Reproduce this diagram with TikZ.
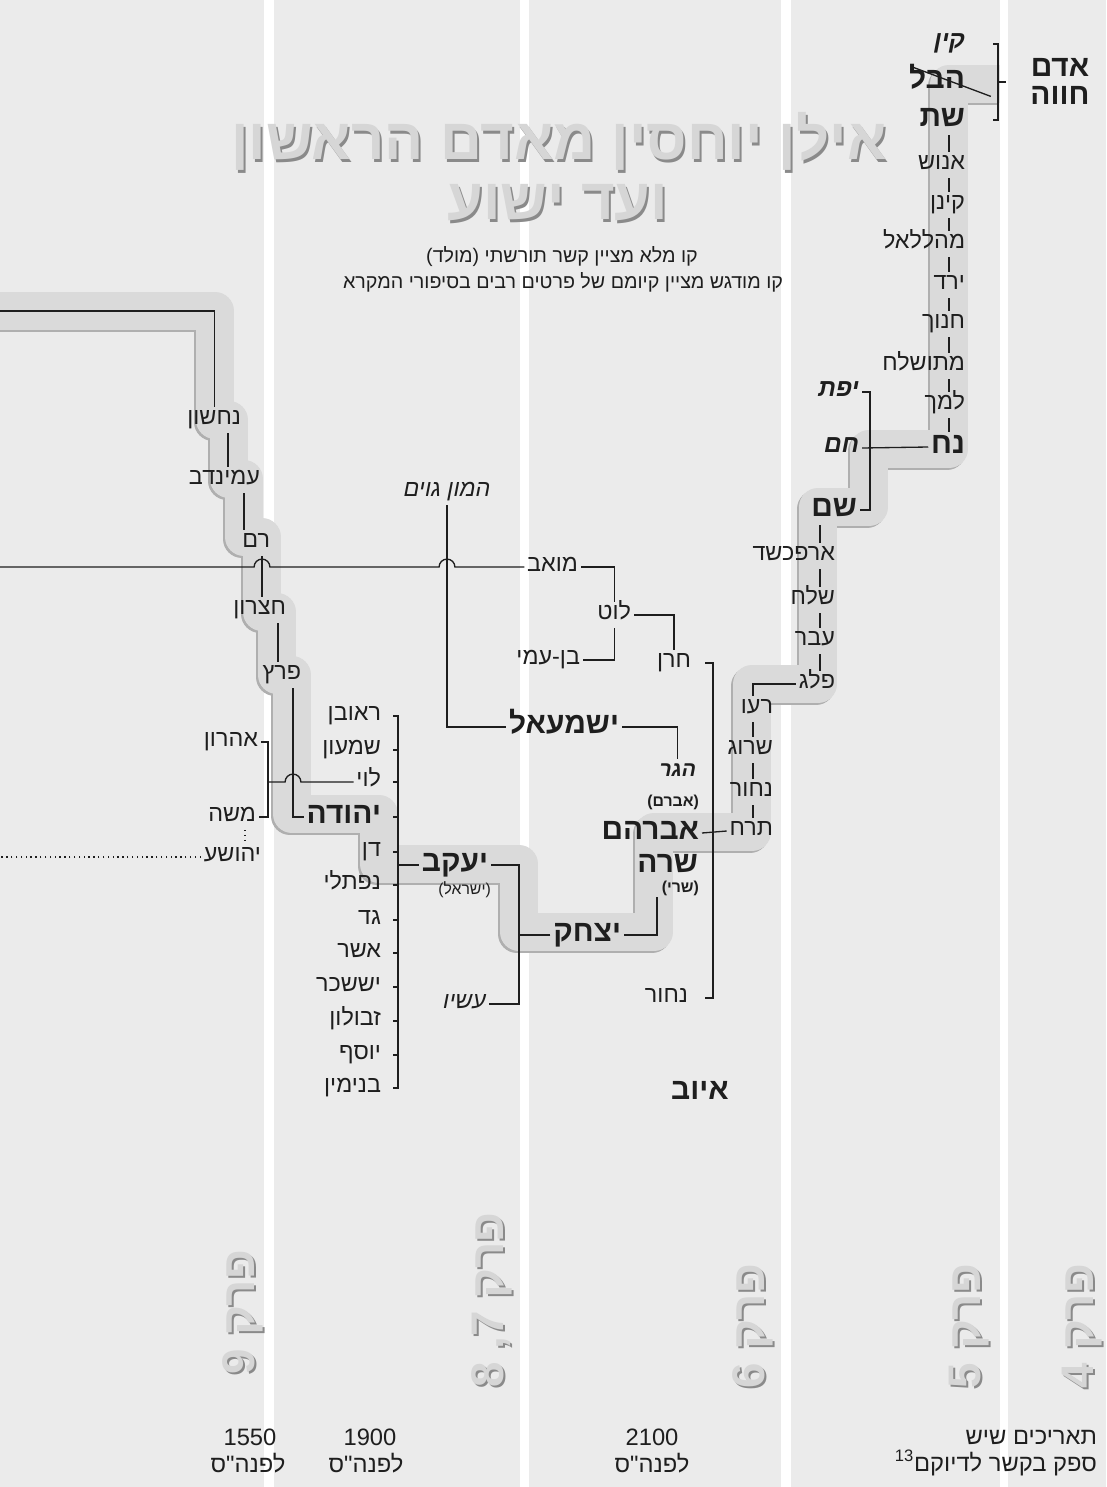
\documentclass[tikz,border=0pt]{standalone}
\usepackage{fontspec}
\setmainfont{Liberation Sans}
\newfontfamily\hebfont[Script=Hebrew]{Liberation Sans}
\TeXXeTstate=1
\usetikzlibrary{positioning}

\definecolor{panelgray}{HTML}{EBEBEB}
\definecolor{bandfill}{HTML}{DADADA}
\definecolor{bandedge}{HTML}{AFAFAF}
\definecolor{embface}{HTML}{D6D6D6}
\definecolor{embshade}{HTML}{8A8A8A}
\definecolor{ink}{HTML}{1E1E1E}

\newcommand{\heb}[1]{{\hebfont\beginR #1\endR}}

\begin{document}
\begin{tikzpicture}[x=0.02cm, y=-0.02cm,
    nm/.style={font=\fontsize{13.3}{15}\selectfont, text=ink, inner sep=1.5pt, text height=8.5pt, text depth=3pt, anchor=east},
    big/.style={nm, font=\fontsize{17}{19}\selectfont\bfseries, text height=10.5pt, text depth=3.5pt},
    slant/.style={nm, font=\fontsize{14}{16}\selectfont\bfseries\itshape},
    itname/.style={nm, font=\fontsize{13.3}{15}\selectfont\itshape},
    note/.style={font=\fontsize{9}{10}\selectfont\bfseries, text=ink, inner sep=1pt, anchor=east},
    date/.style={font=\fontsize{13.5}{15}\selectfont, text=ink, inner sep=1pt},
    link/.style={draw=ink, line width=0.75pt},
    band/.style={line width=0.76cm, line join=round},
    embtop/.style={font=\fontsize{33}{35}\selectfont\bfseries, text=embface, inner sep=0pt},
    embbot/.style={font=\fontsize{33}{35}\selectfont\bfseries, text=embshade, inner sep=0pt},
    chap/.style={font=\fontsize{26}{28}\selectfont\bfseries, rotate=90, inner sep=0pt}]

    \useasboundingbox (0,0) rectangle (1106,1487);

    % Background panels
    \fill[white] (0,0) rectangle (1106,1487);
    \foreach \xa/\xb in {0/264, 274/520, 529/781, 791/1000, 1008/1106}
        \fill[panelgray] (\xa,0) rectangle (\xb,1487);

    % Main line of descent
    \foreach \dx/\dy/\col in {-2/2/bandedge, 0/0/bandfill}
        \draw[band, \col, shift={(\dx,\dy)}] (0,311) -- (215,311) -- (215,420) -- (229,420)
            -- (229,479) -- (244,479) -- (244,537) -- (262,537) -- (262,612) -- (277,612)
            -- (277,675) -- (292,675) -- (292,814) -- (379,814) -- (379,864) -- (519,864)
            -- (519,932) -- (654,932) -- (654,832) -- (752,832) -- (752,684) -- (818,684)
            -- (818,507) -- (869,507) -- (869,449) -- (949,449) -- (949,84) -- (1000,84);

    % Title
    \node[embbot] (titleshade) at (561,144) {\heb{אילן יוחסין מאדם הראשון}};
    \node[embtop] (title) at (559,141) {\heb{אילן יוחסין מאדם הראשון}};
    \node[embbot] (subtitleshade) at (560,206) {\heb{ועד ישוע}};
    \node[embtop] (subtitle) at (558,203) {\heb{ועד ישוע}};
    \node[date, font=\fontsize{11.2}{13}\selectfont] (legendA) at (562,257) {\heb{קו מלא מציין קשר תורשתי (מולד)}};
    \node[date, font=\fontsize{11.2}{13}\selectfont] (legendB) at (563,282) {\heb{קו מודגש מציין קיומם של פרטים רבים בסיפורי המקרא}};

    % Adam to Noah
    \node[big, anchor=center] (adam) at (1060,70) {\heb{אדם}};
    \node[big, anchor=center] (havva) at (1060,98) {\heb{חווה}};
    \node[slant] (qayin) at (968,44) {\heb{קין}};
    \node[big] (hevel) at (968,82) {\heb{הבל}};
    \node[big] (shet) at (968,120) {\heb{שת}};
    \draw[link] ([shift={(3pt,0pt)}]hevel.north west) -- ([shift={(13pt,0.5pt)}]hevel.south east);
    \coordinate (adspine) at (998,0);
    \coordinate (adtick) at (993,0);
    \draw[link] (qayin.east -| adtick) -- (qayin.east -| adspine) -- (shet.east -| adspine) -- (shet.east -| adtick);
    \draw[link] (hevel.east -| adspine) -- ++(8,0);

    \foreach \who/\txt/\yy in {enosh/אנוש/165, qenan/קינן/205, mahalalel/מהללאל/244, yered/ירד/285,
            hanokh/חנוך/324, metushelah/מתושלח/366, lemekh/למך/405}
        \node[nm] (\who) at (968,\yy) {\heb{\txt}};
    \node[big] (noah) at (968,447) {\heb{נח}};
    \coordinate (sethcol) at (949,0);
    \foreach \a/\b in {shet/enosh, enosh/qenan, qenan/mahalalel, mahalalel/yered, yered/hanokh,
            hanokh/metushelah, metushelah/lemekh, lemekh/noah}
        \draw[link] (\a.south -| sethcol) -- (\b.north -| sethcol);

    % Sons of Noah
    \node[slant] (yefet) at (862,392) {\heb{יפת}};
    \node[slant] (ham) at (862,448) {\heb{חם}};
    \node[big] (shem) at (860,510) {\heb{שם}};
    \coordinate (noahspine) at (870,0);
    \draw[link] (yefet.east) -| (shem.east -| noahspine) -- (shem.east);
    \draw[link] (ham.east) -- (noah.west);

    % Shem to Terah
    \foreach \who/\txt/\yy in {arpakhshad/ארפכשד/556, shelah/שלח/600, ever/עבר/641, peleg/פלג/684}
        \node[nm] (\who) at (838,\yy) {\heb{\txt}};
    \coordinate (shemcol) at (820,0);
    \foreach \a/\b in {shem/arpakhshad, arpakhshad/shelah, shelah/ever, ever/peleg}
        \draw[link] (\a.south -| shemcol) -- (\b.north -| shemcol);

    \foreach \who/\txt/\yy in {reu/רעו/709, serug/שרוג/750, nahor/נחור/792, terah/תרח/831}
        \node[nm] (\who) at (776,\yy) {\heb{\txt}};
    \coordinate (reucol) at (753,0);
    \draw[link] (peleg.west) -| (reu.north -| reucol);
    \foreach \a/\b in {reu/serug, serug/nahor, nahor/terah}
        \draw[link] (\a.south -| reucol) -- (\b.north -| reucol);

    % Sons of Terah
    \node[big] (avraham) at (702,833) {\heb{אברהם}};
    \node[nm] (haran) at (694,663) {\heb{חרן}};
    \node[nm] (nahortwo) at (691,998) {\heb{נחור}};
    \coordinate (terspine) at (713,0);
    \coordinate (tertick) at (705,0);
    \draw[link] (haran.east -| tertick) -- (haran.east -| terspine) -- (nahortwo.east -| terspine) -- (nahortwo.east -| tertick);
    \draw[link] (avraham.east) -- (terah.west);

    % Lot
    \node[nm] (lot) at (634,615) {\heb{לוט}};
    \node[nm] (moav) at (581,567) {\heb{מואב}};
    \node[nm] (benami) at (583,660) {\heb{בן-עמי}};
    \draw[link] (lot.east) -| (haran.north);
    \draw[link] (moav.east) -| (lot.north);
    \draw[link] (lot.south) |- (benami.east);

    % Ishmael and Isaac
    \node[itname, anchor=center] (hamon) at (447,492) {\heb{המון גוים}};
    \node[big] (ishmael) at (622,727) {\heb{ישמעאל}};
    \node[slant, font=\fontsize{12}{14}\selectfont\bfseries\itshape] (hagar) at (699,772) {\heb{הגר}};
    \node[note] (avram) at (701,802) {\heb{(אברם)}};
    \node[big] (sarah) at (701,866) {\heb{שרה}};
    \node[note] (sarai) at (701,888) {\heb{(שרי)}};
    \coordinate (hopA) at (447,567);
    \coordinate (hopB) at (262,567);
    \coordinate (leftB) at (0,567);
    \draw[link] (hamon.south) |- (ishmael.west);
    \draw[link] (ishmael.east) -| (hagar.north);
    \draw[link] (moav.west) -- ([xshift=4.5pt]hopA) arc[start angle=0, end angle=180, radius=4.5pt]
        -- ([xshift=4.5pt]hopB) arc[start angle=0, end angle=180, radius=4.5pt] -- (leftB);

    \node[big] (yitzhak) at (624,935) {\heb{יצחק}};
    \coordinate (sarahfoot) at (657,897);
    \draw[link] (sarahfoot) |- (yitzhak.east);

    % Jacob and Esau
    \node[big] (yaakov) at (491,865) {\heb{יעקב}};
    \node[note, font=\fontsize{9}{10}\selectfont] (israel) at (493,890) {\heb{(ישראל)}};
    \node[itname] (esav) at (489,1004) {\heb{עשיו}};
    \coordinate (isspine) at (519,935);
    \draw[link] (yitzhak.west) -- (isspine);
    \draw[link] (yaakov.east) -| (isspine) |- (esav.east);

    % Twelve tribes
    \foreach \who/\txt/\yy in {reuven/ראובן/716, shimon/שמעון/750, levi/לוי/782, dan/דן/852,
            naftali/נפתלי/885, gad/גד/920, asher/אשר/953, yissakhar/יששכר/987,
            zevulun/זבולון/1021, yosef/יוסף/1055, binyamin/בנימין/1088}
        \node[nm] (\who) at (384,\yy) {\heb{\txt}};
    \node[big] (yehuda) at (384,817) {\heb{יהודה}};
    \coordinate (jspine) at (398,0);
    \coordinate (jtick) at (393,0);
    \draw[link] (reuven.east -| jtick) -- (reuven.east -| jspine) -- (binyamin.east -| jspine) -- (binyamin.east -| jtick);
    \foreach \who in {shimon, levi, yehuda, dan, naftali, gad, asher, yissakhar, zevulun, yosef}
        \draw[link] (\who.east -| jtick) -- (\who.east -| jspine);
    \draw[link] (yaakov.west) -- (yaakov.west -| jspine);

    % Levi
    \node[nm] (aharon) at (261,742) {\heb{אהרון}};
    \node[nm] (moshe) at (259,817) {\heb{משה}};
    \node[nm] (yehoshua) at (264,857) {\heb{יהושע}};
    \coordinate (levispine) at (268,782);
    \coordinate (hopC) at (293,782);
    \coordinate (joshcol) at (245,0);
    \coordinate (leftC) at (0,857);
    \draw[link] (levi.west) -- ([xshift=4.5pt]hopC) arc[start angle=0, end angle=180, radius=4.5pt] -- (levispine);
    \draw[link] (aharon.east) -| (levispine) |- (moshe.east);
    \draw[link, dotted] (moshe.south -| joshcol) -- (yehoshua.north -| joshcol);
    \draw[link, dotted] (yehoshua.west) -- (leftC);

    % Judah to Nahshon
    \node[nm] (peretz) at (304,675) {\heb{פרץ}};
    \node[nm] (hetzron) at (289,610) {\heb{חצרון}};
    \node[nm] (ram) at (273,543) {\heb{רם}};
    \node[nm] (amminadav) at (263,480) {\heb{עמינדב}};
    \node[nm] (nahshon) at (244,420) {\heb{נחשון}};
    \coordinate (perezcol) at (293,0);
    \coordinate (hetzcol) at (278,0);
    \coordinate (ramcol) at (262,0);
    \coordinate (amcol) at (244,0);
    \coordinate (nahcol) at (228,0);
    \coordinate (leftA) at (0,311);
    \draw[link] (yehuda.west) -| (peretz.south -| perezcol);
    \foreach \a/\b/\c in {nahshon/amminadav/nahcol, amminadav/ram/amcol, ram/hetzron/ramcol, hetzron/peretz/hetzcol}
        \draw[link] (\a.south -| \c) -- (\b.north -| \c);
    \draw[link] (nahshon.north) |- (leftA);

    \node[big, anchor=center] (iyov) at (700,1093) {\heb{איוב}};

    % Chapters
    \foreach \who/\txt/\xx/\yy in {chnine/פרק 9/243/1312, chsix/פרק 6/753/1326, chfive/פרק 5/969/1326, chfour/פרק 4/1082/1326} {
        \node[chap, text=embshade] (\who shade) at (\xx+2,\yy+2) {\heb{\txt}};
        \node[chap, text=embface] (\who) at (\xx,\yy) {\heb{\txt}};
    }
    \node[chap, text=embshade] (chsevenshade) at (494,1302) {\heb{פרק 7, 8}};
    \node[chap, text=embface] (chseven) at (492,1300) {\heb{פרק 7, 8}};

    % Dates
    \node[date] (dateA) at (250,1437) {1550};
    \node[date] (dateAbc) at (248,1463) {\heb{לפנה"ס}};
    \node[date] (dateB) at (370,1437) {1900};
    \node[date] (dateBbc) at (366,1463) {\heb{לפנה"ס}};
    \node[date] (dateC) at (652,1437) {2100};
    \node[date] (dateCbc) at (652,1463) {\heb{לפנה"ס}};
    \node[date, anchor=east] (doubtA) at (1099,1437) {\heb{תאריכים שיש}};
    \node[date, anchor=east] (doubtB) at (1099,1463) {\heb{ספק בקשר לדיוקם\textsuperscript{13}}};
\end{tikzpicture}
\end{document}
